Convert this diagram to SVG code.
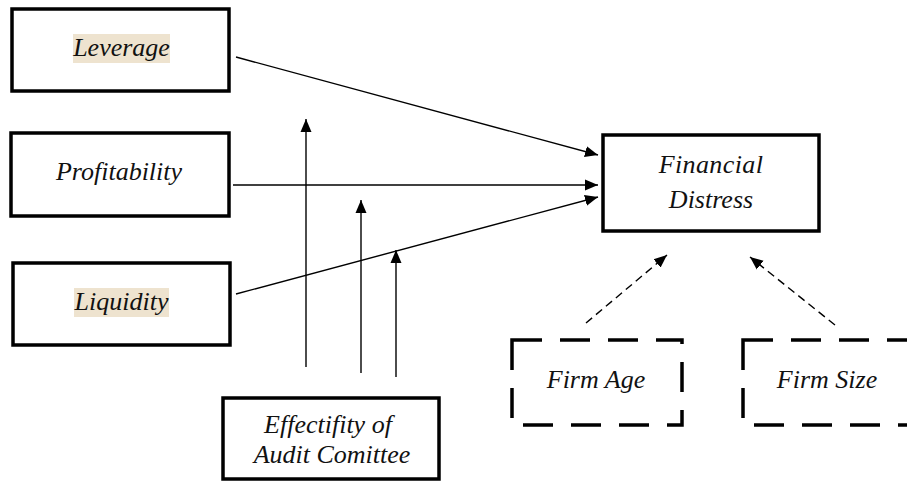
<svg xmlns="http://www.w3.org/2000/svg" width="907" height="482" viewBox="0 0 907 482">
<style>
.box{fill:#fff;stroke:#000;stroke-width:3.5}
.dbox{fill:#fff;stroke:#000;stroke-width:3.5;stroke-dasharray:30 18}
text{font-family:'Times New Roman','Liberation Serif','DejaVu Serif',serif;font-style:italic;font-size:26px;fill:#111;text-anchor:middle}
.hl{fill:#EEE3CF}
.c{stroke:#000;stroke-width:1.4;fill:none}
.cd{stroke:#000;stroke-width:1.4;fill:none;stroke-dasharray:8 5}
</style>
<defs>
<marker id="ah" markerUnits="userSpaceOnUse" markerWidth="14" markerHeight="12" refX="13" refY="6" orient="auto">
<path d="M0,0.5 L13,6 L0,11.5 z" fill="#000"/>
</marker>
</defs>
<rect width="907" height="482" fill="#fff"/>
<g id="leverage">
<rect class="box" x="12" y="9" width="217" height="82"/>
<rect class="hl" x="73" y="34" width="97" height="29"/>
<text x="121.5" y="56">Leverage</text>
</g>
<g id="profitability">
<rect class="box" x="11" y="133" width="218" height="83"/>
<text x="119" y="180">Profitability</text>
</g>
<g id="liquidity">
<rect class="box" x="13" y="263" width="217" height="82"/>
<rect class="hl" x="74" y="288" width="95" height="29"/>
<text x="121.5" y="310">Liquidity</text>
</g>
<g id="financial-distress">
<rect class="box" x="603" y="135" width="216" height="96"/>
<text x="711" y="173" letter-spacing="0.4">Financial</text>
<text x="711" y="208">Distress</text>
</g>
<g id="audit-committee">
<rect class="box" x="223" y="398" width="216" height="81"/>
<text x="328" y="433">Effectifity of</text>
<text x="332" y="463">Audit Comittee</text>
</g>
<g id="firm-age">
<rect class="dbox" x="512" y="340" width="170" height="85"/>
<text x="596" y="388">Firm Age</text>
</g>
<g id="firm-size">
<rect class="dbox" x="743" y="340" width="170" height="85"/>
<text x="827" y="388">Firm Size</text>
</g>
<g id="connectors">
<line class="c" x1="236" y1="57" x2="598" y2="155" marker-end="url(#ah)"/>
<line class="c" x1="233" y1="185" x2="598" y2="185" marker-end="url(#ah)"/>
<line class="c" x1="236" y1="294" x2="598" y2="197" marker-end="url(#ah)"/>
<line class="c" x1="306" y1="367" x2="306" y2="119" marker-end="url(#ah)"/>
<line class="c" x1="361" y1="373" x2="361" y2="200" marker-end="url(#ah)"/>
<line class="c" x1="396" y1="377" x2="396" y2="250" marker-end="url(#ah)"/>
<line class="cd" x1="586" y1="323" x2="667" y2="255" marker-end="url(#ah)"/>
<line class="cd" x1="835" y1="325" x2="750" y2="257" marker-end="url(#ah)"/>
</g>
</svg>
